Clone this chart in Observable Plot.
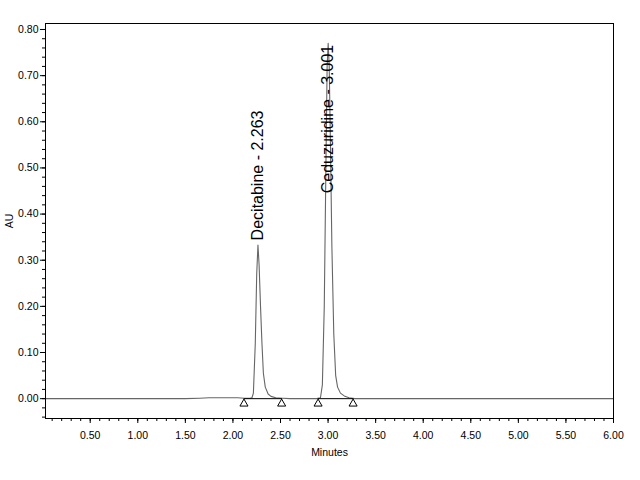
<!DOCTYPE html>
<html>
<head>
<meta charset="utf-8">
<script src="https://cdn.jsdelivr.net/npm/d3@7"></script>
<script src="https://cdn.jsdelivr.net/npm/@observablehq/plot@0.6"></script>
<style>
  html, body { margin: 0; padding: 0; background: #fff; }
  #chart { width: 640px; height: 480px; }
</style>
</head>
<body>
<div id="chart"></div>
<script>
// Chromatogram trace (minutes, AU)
const traceTime = [0.03, 0.5, 1.0, 1.5, 1.65, 1.75, 1.85, 1.95, 2.05, 2.12, 2.18, 2.20, 2.215, 2.235, 2.25, 2.263, 2.275, 2.29, 2.305, 2.32, 2.34, 2.37, 2.40, 2.45, 2.52, 2.6, 2.75, 2.88, 2.92, 2.94, 2.96, 2.98, 2.99, 3.001, 3.012, 3.025, 3.04, 3.06, 3.08, 3.10, 3.13, 3.17, 3.22, 3.28, 3.5, 4.0, 4.5, 5.0, 5.5, 6.0];
const traceAU   = [0.000, 0.000, 0.000, 0.000, 0.001, 0.002, 0.002, 0.002, 0.002, 0.001, 0.001, 0.002, 0.012, 0.120, 0.270, 0.333, 0.290, 0.200, 0.120, 0.055, 0.025, 0.010, 0.005, 0.002, 0.001, 0.000, 0.000, 0.000, 0.002, 0.030, 0.200, 0.550, 0.720, 0.770, 0.720, 0.550, 0.330, 0.140, 0.050, 0.025, 0.012, 0.006, 0.002, 0.000, 0.000, 0.000, 0.000, 0.000, 0.000, 0.000];

// Peak annotations
const peakNames = ["Decitabine - 2.263", "Ceduzuridine - 3.001"];
const peakTimes = [2.263, 3.001];
const labelAU = [0.343, 0.445];

// Integration baseline start/end markers
const markerTimes = [2.116, 2.512, 2.895, 3.263];
const markerAU = [-0.011, -0.011, -0.011, -0.011];
const markerPeak = [0, 0, 1, 1];

// Axis ticks
const xMajor = [0.5, 1.0, 1.5, 2.0, 2.5, 3.0, 3.5, 4.0, 4.5, 5.0, 5.5, 6.0];
const xMinor = d3.range(1, 61).map(i => i / 10);
const yMajor = [0.0, 0.1, 0.2, 0.3, 0.4, 0.5, 0.6, 0.7, 0.8];
const yMinor = d3.range(-2, 41).map(i => i / 50);

const trace = traceTime.map((t, i) => ({t, au: traceAU[i]}));
const labels = peakNames.map((n, i) => ({n, t: peakTimes[i], au: labelAU[i]}));
const markers = markerTimes.map((t, i) => ({t, au: markerAU[i], p: markerPeak[i]}));
const baseSeg = markerTimes.map((t, i) => ({t, au: 0, p: markerPeak[i]}));

const plot = Plot.plot({
  width: 640,
  height: 480,
  marginLeft: 45,
  marginRight: 27,
  marginTop: 23,
  marginBottom: 62,
  style: {fontFamily: "'Liberation Sans', Arial, sans-serif", fontSize: "10.5px", color: "black", background: "white"},
  x: {domain: [0.03, 6.0]},
  y: {domain: [-0.043, 0.813]},
  marks: [
    Plot.axisX({ticks: xMinor, tickSize: 3, text: null, label: null}),
    Plot.axisX({ticks: xMajor, tickSize: 5, tickPadding: 8, tickFormat: d => d.toFixed(2), label: "Minutes", labelAnchor: "center", labelArrow: "none", labelOffset: 37}),
    Plot.axisY({ticks: yMinor, tickSize: 3, text: null, label: null}),
    Plot.axisY({ticks: yMajor, tickSize: 5, tickPadding: 2, tickFormat: d => d.toFixed(2), label: "AU", labelAnchor: "center", labelArrow: "none", labelOffset: 40}),
    Plot.line(trace, {x: "t", y: "au", stroke: "#666", strokeWidth: 1.1}),
    Plot.line(baseSeg, {x: "t", y: "au", z: "p", stroke: "black", strokeWidth: 1}),
    Plot.dot(markers, {x: "t", y: "au", symbol: "triangle", r: 3, stroke: "black", fill: "none", strokeWidth: 1}),
    Plot.text(labels, {x: "t", y: "au", text: "n", rotate: -90, textAnchor: "start", lineAnchor: "middle", fontSize: 16, fill: "black"}),
    Plot.frame({stroke: "black"})
  ]
});
document.getElementById("chart").appendChild(plot);
</script>
</body>
</html>
